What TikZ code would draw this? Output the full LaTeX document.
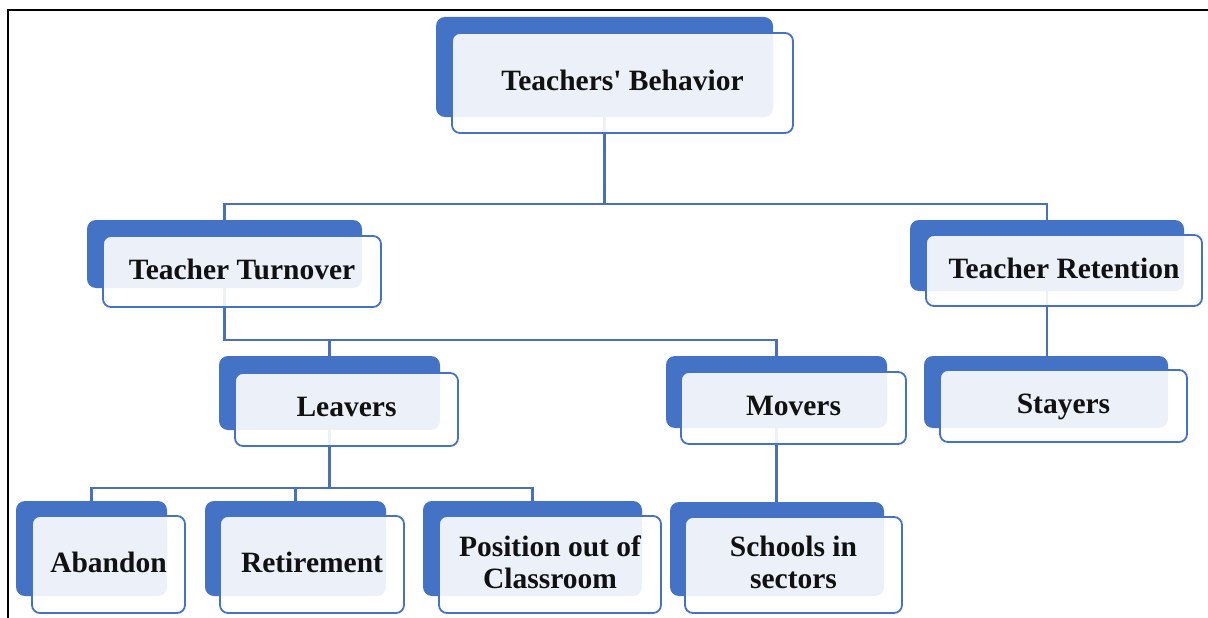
\documentclass[tikz,border=0pt]{standalone}
\usepackage{fontspec}
\setmainfont{Liberation Serif}[Ligatures=TeXOff]
\pgfdeclarelayer{bg}
\pgfsetlayers{bg,main}
\definecolor{bl}{HTML}{4472C4}
\definecolor{ln}{HTML}{4A70BA}
\definecolor{txt}{HTML}{111111}
\tikzset{
  backbox/.style={fill=bl, draw=none, rounded corners=9pt, inner sep=0pt},
  frontbox/.style={fill=white, fill opacity=0.9, text opacity=1, draw=bl, draw opacity=1,
    line width=1.8pt, rounded corners=8pt, inner sep=0pt, align=center, text=txt,
    text depth=5pt, font=\fontsize{29.5}{32}\selectfont\bfseries},
  conn/.style={draw=ln, line width=2.3pt},
  frame/.style={draw=black, line width=2.6pt}
}
\begin{document}
\begin{tikzpicture}[x=1pt,y=-1pt]
\useasboundingbox (0,0) rectangle (1208,618);
\draw[frame] (8,618) -- (8,10) -- (1208,10);
% back boxes
\node[backbox, minimum width=337pt, minimum height=100pt] (tbB) at (604.5,67) {};
\node[backbox, minimum width=275pt, minimum height=68pt] (ttB) at (224.5,254) {};
\node[backbox, minimum width=274pt, minimum height=71pt] (trB) at (1047,255.5) {};
\node[backbox, minimum width=221pt, minimum height=74pt] (lvB) at (329.5,393) {};
\node[backbox, minimum width=221pt, minimum height=72pt] (mvB) at (776.5,392) {};
\node[backbox, minimum width=244pt, minimum height=72pt] (stB) at (1046,392) {};
\node[backbox, minimum width=151pt, minimum height=95pt] (abB) at (91.5,548.5) {};
\node[backbox, minimum width=181pt, minimum height=95pt] (reB) at (295.5,548.5) {};
\node[backbox, minimum width=219pt, minimum height=95pt] (poB) at (532.5,548.5) {};
\node[backbox, minimum width=214pt, minimum height=94pt] (scB) at (777,549) {};
% front boxes
\node[frontbox, minimum width=341pt, minimum height=100pt] (tbF) at (622.5,83) {Teachers' Behavior};
\node[frontbox, minimum width=278pt, minimum height=71pt] (ttF) at (242,271.5) {Teacher Turnover};
\node[frontbox, minimum width=276pt, minimum height=71pt] (trF) at (1064,270.5) {Teacher Retention};
\node[frontbox, minimum width=223pt, minimum height=73pt] (lvF) at (346.5,409.5) {Leavers};
\node[frontbox, minimum width=225pt, minimum height=72pt] (mvF) at (793.5,408) {Movers};
\node[frontbox, minimum width=247pt, minimum height=72pt] (stF) at (1063.5,406) {Stayers};
\node[frontbox, minimum width=153pt, minimum height=97pt] (abF) at (108.5,564.5) {Abandon};
\node[frontbox, minimum width=184pt, minimum height=97pt] (reF) at (312,564.5) {Retirement};
\node[frontbox, minimum width=222pt, minimum height=97pt] (poF) at (550,564.5) {Position out of\\Classroom};
\node[frontbox, minimum width=217pt, minimum height=96pt] (scF) at (793.5,565) {Schools in\\sectors};
% connectors
\begin{pgfonlayer}{bg}
\draw[conn] (tbB.south) -- ++(0,87) -| (ttB.north);
\draw[conn] (tbB.south) -- ++(0,87) -| (trB.north);
\draw[conn] (ttB.south) -- ++(0,52) -| (lvB.north);
\draw[conn] (ttB.south) -- ++(0,52) -| (mvB.north);
\draw[conn] (lvB.south) -- ++(0,58) -| (abB.north);
\draw[conn] (lvB.south) -- ++(0,58) -| (reB.north);
\draw[conn] (lvB.south) -- ++(0,58) -| (poB.north);
\draw[conn] (mvB.south) -- (mvB.south |- scB.north);
\draw[conn] (trB.south) -- (trB.south |- stB.north);
\end{pgfonlayer}
\end{tikzpicture}
\end{document}
